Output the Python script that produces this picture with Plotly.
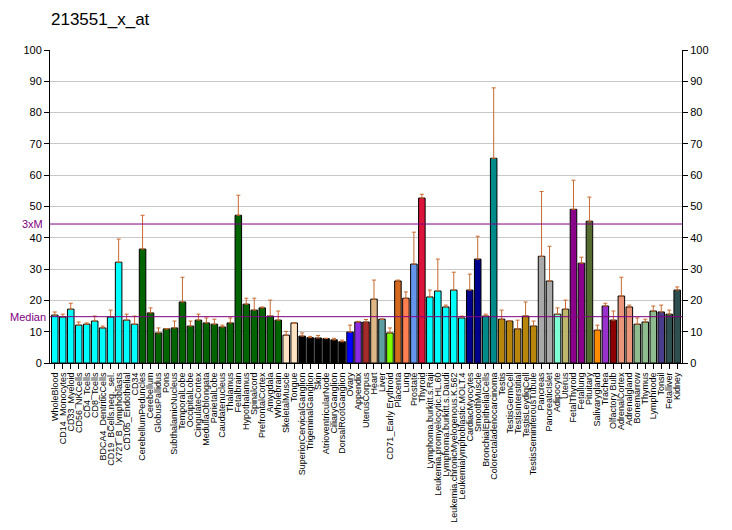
import plotly.graph_objects as go

categories = ["WholeBlood","CD14_Monocytes","CD33_Myeloid","CD56_NKCells","CD4_Tcells","CD8_Tcells",
 "BDCA4_DentriticCells","CD19_BCells.neg._sel.","X72T_B_lymphoblasts","CD105_Endothelial","CD34",
 "CerebellumPeduncles","Cerebellum","GlobusPallidus","Pons","SubthalamicNucleus","TemporalLobe",
 "OccipitalLobe","CingulateCortex","MedullaOblongata","ParietalLobe","Caudatenucleus","Thalamus",
 "Fetalbrain","Hypothalamus","Spinalcord","PrefrontalCortex","Amygdala","Wholebrain",
 "SkeletalMuscle","Tongue","SuperiorCervicalGanglion","TrigeminalGanglion","Skin",
 "AtrioventricularNode","CiliaryGanglion","DorsalRootGanglion","Ovary","Appendix","UterusCorpus",
 "Heart","Liver","CD71_Early Erythroid","Placenta","Lung","Prostate","Thyroid",
 "Lymphoma burkitt's Raji","Leukemia promyelocytic HL60","Lymphoma burkitt's Daudi",
 "Leukemia chronicMyelogenous K562","Leukemialymphoblastic MOLT4","CardiacMyocytes","SmoothMuscle",
 "BronchialEpithelialCells","Colorectaladenocarcinoma","Testis","TestisGermCell","TestisInterstitial",
 "TestisLeydigCell","TestisSeminiferousTubule","Pancreas","PancreaticIslet","Adipocyte","Uterus",
 "FetalThyroid","Fetallung","Pituitary","Salivarygland","Trachea","Olfactory Bulb","AdrenalCortex",
 "Adrenalgland","Bonemarrow","Thymus","Lymphnode","Tonsil","Fetalliver","Kidney"]

tick_labels = ["WholeBlood","CD14_Monocytes","CD33_Myeloid","CD56_NKCells","CD4_Tcells","CD8_Tcells",
 "BDCA4_DentriticCells","CD19_BCells.neg._sel.","X72T_B_lymphoblasts","CD105_Endothelial","CD34",
 "CerebellumPeduncles","Cerebellum","GlobusPallidus","Pons","SubthalamicNucleus","TemporalLobe",
 "OccipitalLobe","CingulateCortex","MedullaOblongata","ParietalLobe","Caudatenucleus","Thalamus",
 "Fetalbrain","Hypothalamus","Spinalcord","PrefrontalCortex","Amygdala","Wholebrain",
 "SkeletalMuscle","Tongue","SuperiorCervicalGanglion","TrigeminalGanglion","Skin",
 "AtrioventricularNode","CiliaryGanglion","DorsalRootGanglion","Ovary","Appendix","UterusCorpus",
 "Heart","Liver","CD71_Early Erythroid","Placenta","Lung","Prostate","Thyroid",
 "Lymphoma.burkitt.s.Raji","Leukemia.promyelocytic.HL.60","Lymphoma.burkitt.s.Daudi",
 "Leukemia.chronicMyelogenous.K.562","Leukemialymphoblastic.MOLT.4","CardiacMyocytes","SmoothMuscle",
 "BronchialEpithelialCells","Colorectaladenocarcinoma","Testis","TestisGermCell","TestisInterstitial",
 "TestisLeydigCell","TestisSeminiferousTubule","Pancreas","PancreaticIslet","Adipocyte","Uterus",
 "FetalThyroid","Fetallung","Pituitary","Salivarygland","Trachea","Olfactory Bulb","AdrenalCortex",
 "Adrenalgland","Bonemarrow","Thymus","Lymphnode","Tonsil","Fetalliver","Kidney"]

values = [15.3,14.7,17.2,12.1,12.4,13.4,11.2,14.7,32.2,13.7,12.4,
          36.4,16.0,9.6,10.9,11.2,19.5,11.8,13.7,12.8,12.4,11.5,12.8,47.2,18.8,16.9,17.6,15.0,13.7,
          8.9,12.8,8.6,8.1,8.0,7.8,7.4,6.8,9.9,13.1,13.1,20.4,14.0,9.6,26.2,20.7,31.6,52.7,
          21.1,23.0,17.9,23.3,14.4,23.3,33.2,15.0,65.4,14.0,13.4,10.9,15.0,11.8,34.1,26.2,
          15.6,17.2,49.1,31.9,45.3,10.5,18.2,13.7,21.4,17.9,12.4,13.1,16.6,16.3,15.6,23.3]

err_top = [16.3,15.6,19.1,13.1,12.8,15.0,11.8,16.9,39.6,15.6,15.0,
           47.2,17.6,11.2,10.9,13.4,27.4,13.4,15.6,14.4,14.0,12.1,14.4,53.6,20.7,20.7,17.9,20.1,16.6,
           10.1,12.8,9.6,8.5,8.8,7.9,7.9,7.3,12.1,13.3,13.9,26.5,14.0,11.2,26.5,22.7,41.8,53.9,
           23.3,33.2,18.5,29.0,15.0,28.4,40.5,15.6,87.9,16.9,13.4,13.7,19.5,13.4,54.8,37.3,
           17.6,20.1,58.4,33.8,53.0,12.1,19.1,16.6,27.4,18.5,14.4,14.0,18.2,18.5,16.9,24.3]

colors = (["#00FFFF"]*11 + ["#006400"]*18 + ["#FFE4C4"]*2 + ["#000000"]*6 +
          ["#0000FF","#8A2BE2","#A52A2A","#DEB887","#5F9EA0","#7FFF00","#D2691E","#FF7F50",
           "#6495ED","#DC143C"] + ["#00FFFF"]*5 + ["#00008B"]*2 + ["#008B8B"]*2 +
          ["#B8860B"]*5 + ["#A9A9A9"]*2 + ["#7FFFD4","#BDB76B","#8B008B","#8B008B","#556B2F",
           "#FF8C00","#9932CC","#8B0000","#E9967A","#E9967A","#8FBC8F","#8FBC8F","#8FBC8F",
           "#483D8B","#2F4F4F","#2F4F4F"])

median_val = 14.8
three_m = 44.4

x = list(range(len(categories)))
err_plus = [max(e - v, 0) for e, v in zip(err_top, values)]

fig = go.Figure()
fig.add_trace(go.Bar(
    x=x, y=values, marker=dict(color=colors, line=dict(color="black", width=1)),
    error_y=dict(type="data", symmetric=False, array=err_plus, arrayminus=[0]*len(x),
                 color="#C8692E", thickness=1, width=2),
    hovertext=categories, showlegend=False))
fig.add_trace(go.Scatter(x=[0], y=[0], yaxis="y2", mode="markers",
                         marker=dict(opacity=0), showlegend=False, hoverinfo="skip"))

fig.add_shape(type="line", xref="paper", x0=0, x1=1, y0=median_val, y1=median_val,
              line=dict(color="#800080", width=1))
fig.add_shape(type="line", xref="paper", x0=0, x1=1, y0=three_m, y1=three_m,
              line=dict(color="#800080", width=1))
fig.add_annotation(xref="paper", x=0, y=median_val, text="Median", showarrow=False,
                   xanchor="right", xshift=-2, font=dict(color="#800080", size=11))
fig.add_annotation(xref="paper", x=0, y=three_m, text="3xM", showarrow=False,
                   xanchor="right", xshift=-5, font=dict(color="#800080", size=11))

font_family = "Liberation Sans, Arial, sans-serif"
# page has an 8px body margin: figure starts at (8, 8) in the window
fig.update_layout(
    width=724, height=522,
    margin=dict(l=42, r=50, t=42, b=167),
    paper_bgcolor="white", plot_bgcolor="white",
    font=dict(family=font_family, color="black", size=11),
    title=dict(text="213551_x_at", x=43/724, xref="container", xanchor="left",
               y=1 - 5/522, yanchor="top", font=dict(size=17, family=font_family)),
    bargap=0.18,
    xaxis=dict(tickmode="array", tickvals=x, ticktext=tick_labels, tickangle=-90,
               range=[-0.6, len(x) - 0.4], showline=True, linecolor="black", linewidth=1,
               ticks="outside", ticklen=5, tickcolor="black", tickfont=dict(size=9),
               showgrid=False, zeroline=False, automargin=False),
    yaxis=dict(range=[0, 100], tickvals=list(range(0, 101, 10)), showline=True,
               linecolor="black", linewidth=1, ticks="outside", ticklen=5, tickcolor="black",
               gridcolor="#C8C8C8", gridwidth=1, zeroline=False, tickfont=dict(size=11),
               automargin=False),
    yaxis2=dict(range=[0, 100], tickvals=list(range(0, 101, 10)), overlaying="y", side="right",
                showline=True, linecolor="black", linewidth=1, ticks="outside", ticklen=5,
                tickcolor="black", showgrid=False, zeroline=False, tickfont=dict(size=11),
                automargin=False),
)

fig.write_html("out.html")
